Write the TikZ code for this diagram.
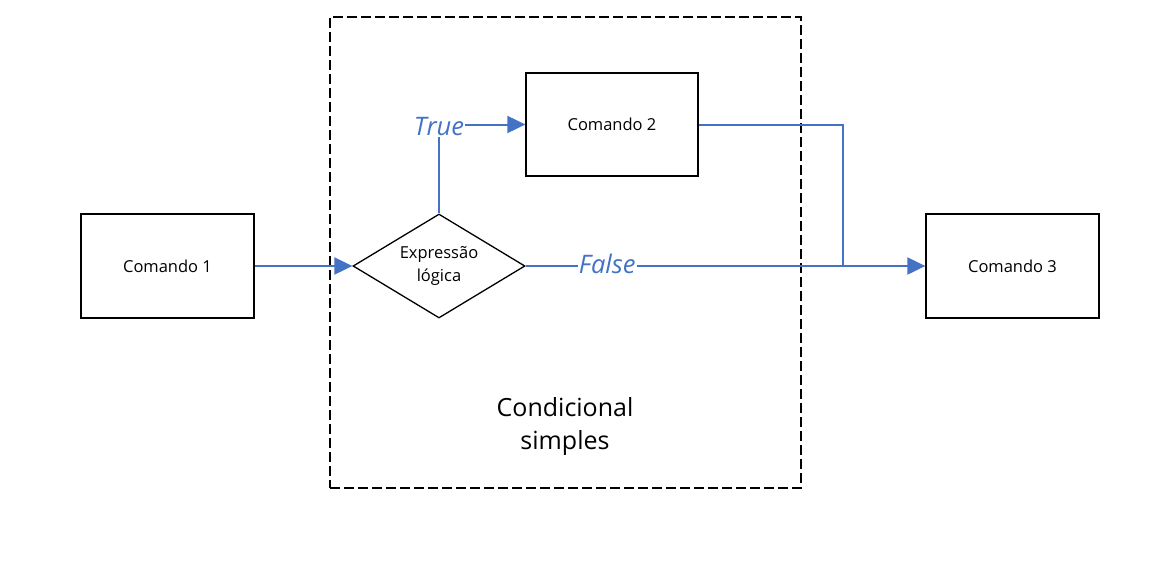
\documentclass[tikz,border=0pt]{standalone}
\usepackage{fontspec}
\setmainfont{Open Sans}
\usetikzlibrary{arrows.meta,shapes.geometric}
\definecolor{flowblue}{HTML}{4472C4}
\tikzset{
  box/.style={draw=black,line width=1.3pt,minimum width=173pt,minimum height=104pt,inner sep=0pt,font=\fontsize{16.5}{20}\selectfont,align=center},
  flow/.style={draw=flowblue,line width=2pt,-{Triangle[length=18pt,width=17pt]}},
  flowplain/.style={draw=flowblue,line width=2pt},
  lab/.style={fill=white,text=flowblue,font=\fontsize{25.5}{28}\selectfont\itshape,inner sep=1pt}
}
\begin{document}
\begin{tikzpicture}[x=1pt,y=-1pt]
\useasboundingbox (0,0) rectangle (1158,568);
\node[draw=black,line width=1.8pt,dash pattern=on 10pt off 4pt,minimum width=471pt,minimum height=471pt,inner sep=0pt] (frame) at (565.5,252.5) {};
\node[font=\fontsize{25}{33}\selectfont,align=center] (cond) at (565,426.5) {Condicional\\simples};
\node[box] (c1) at (167.5,266) {Comando 1};
\node[box,minimum width=172pt,minimum height=103pt] (c2) at (612,124.5) {Comando 2};
\node[box] (c3) at (1012.5,266) {Comando 3};
\node[draw=black,line width=1.3pt,diamond,aspect=1.66,minimum width=172pt,minimum height=104pt,inner sep=0pt,font=\fontsize{16.5}{23}\selectfont,align=center] (dia) at (439,266) {Expressão\\lógica};
\coordinate (join) at (843,266);
\draw[flow] (c1.east) -- (dia.west);
\draw[flow] (dia.north) |- node[lab,pos=0.5,yshift=-2.5pt] {True} (c2.west);
\draw[flow] (dia.east) -- node[lab,pos=0.204,yshift=2.5pt] {False} (c3.west);
\draw[flowplain] (c2.east) -| (join);
\end{tikzpicture}
\end{document}
